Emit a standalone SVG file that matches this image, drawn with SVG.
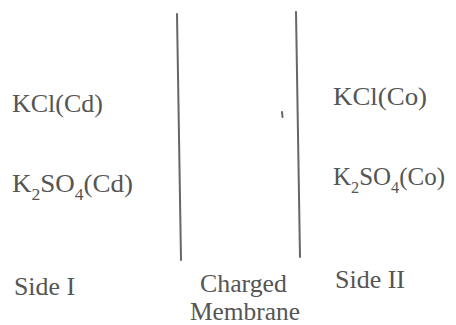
<svg xmlns="http://www.w3.org/2000/svg" width="456" height="325" viewBox="0 0 456 325">
<style>
.t{font-family:"Liberation Serif","DejaVu Serif",serif;fill:#555;font-size:26px}
.s{font-size:17px}
.m{stroke:#666;stroke-width:2;fill:none;stroke-linecap:round}
</style>
<rect width="456" height="325" fill="#fff"/>
<g id="membrane">
<path class="m" d="M177 14 L181 260"/>
<path class="m" d="M296 12 L300 257"/>
<path class="m" d="M282 112 L282.5 117" stroke-width="1.5"/>
</g>
<g id="side1">
<text class="t" x="12" y="112" textLength="91" lengthAdjust="spacingAndGlyphs">KCl(Cd)</text>
<text class="t" x="12" y="192" textLength="121" lengthAdjust="spacingAndGlyphs">K<tspan class="s" dy="8">2</tspan><tspan dy="-8">SO</tspan><tspan class="s" dy="8">4</tspan><tspan dy="-8">(Cd)</tspan></text>
<text class="t" x="14" y="295" textLength="61" lengthAdjust="spacingAndGlyphs">Side I</text>
</g>
<g id="side2">
<text class="t" x="333" y="105" textLength="94" lengthAdjust="spacingAndGlyphs">KCl(Co)</text>
<text class="t" x="333" y="185" textLength="112" lengthAdjust="spacingAndGlyphs">K<tspan class="s" dy="8">2</tspan><tspan dy="-8">SO</tspan><tspan class="s" dy="8">4</tspan><tspan dy="-8">(Co)</tspan></text>
<text class="t" x="335" y="288" textLength="70" lengthAdjust="spacingAndGlyphs">Side II</text>
</g>
<g id="label">
<text class="t" x="200" y="292" textLength="87" lengthAdjust="spacingAndGlyphs">Charged</text>
<text class="t" x="190" y="320" textLength="110" lengthAdjust="spacingAndGlyphs">Membrane</text>
</g>
</svg>
